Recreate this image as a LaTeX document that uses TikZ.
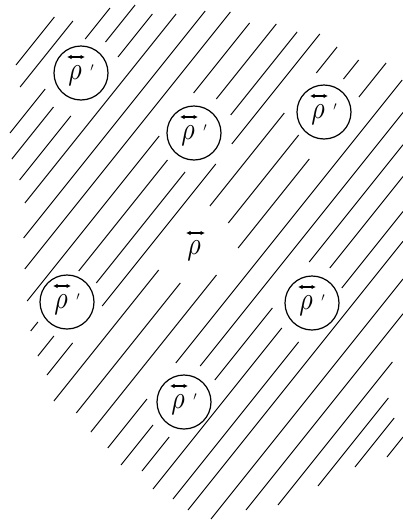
\documentclass[tikz,border=0pt]{standalone}
\usepackage{graphicx}
\usetikzlibrary{arrows.meta}
\newcommand\rhoglyph{\scalebox{2.6}[3.2]{$\rho$}}
\begin{document}
\begin{tikzpicture}[x=1pt,y=-1pt,
  hatch/.style={line width=1pt},
  cell/.style={draw, circle, line width=1.2pt, minimum size=54pt, inner sep=0pt},
  rholab/.style={inner sep=0pt},
  primelab/.style={inner sep=0pt, font=\large},
  accent/.style={line width=1.2pt, {Latex[length=4.5pt,width=4.5pt]}-{Latex[length=4.5pt,width=4.5pt]}}
]
\useasboundingbox (0,0) rectangle (403,520);
\foreach \c/\ya/\yb in {
68/17/65,
89.7/21/87,
116.4/8/39, 116.4/89/133,
139.1/5/42, 139.1/107/159,
163.6/14/57, 163.6/116/180,
187.3/14/203,
214/11/238,
240/12/269,
268/23/93, 268/136/301,
295.5/24/99, 295.5/160/271, 295.5/322/331,
322.7/32/115, 322.7/172/283, 322.7/336/356,
347/34/144, 347/164/306, 347/343/375,
374.7/47/73, 374.7/113/206, 374.7/270/401,
406.7/60/79, 406.7/135/223, 406.7/283/413,
436.5/63/97, 436.5/159/248, 436.5/275/432,
466.2/80/363, 466.2/399/448,
493/112.5/366, 493/425/465,
518.8/144.75/262, 518.8/308/380, 518.8/437/471,
544.2/176.5/268, 544.2/328/489,
572.2/211.5/288, 572.2/342/499,
596/241.25/510,
626.2/279/519,
654/313.75/510,
682/362/505,
706.8/398/486,
728.6/418/467,
752.6/437/457}
  \draw[hatch] ({\c-0.8*\ya},\ya) -- ({\c-0.8*\yb},\yb);
\foreach \n/\cx/\cy in {c1/81/73, c2/194/133, c3/324/112, c4/67/302, c5/312/303, c6/184/402} {
  \node[cell] (\n) at (\cx,\cy) {};
  \node[rholab] (\n-r) at (\cx-6,\cy+3) {\rhoglyph};
  \node[primelab] (\n-p) at (\cx+11,\cy-5) {$\prime$};
  \draw[accent] (\cx-14,\cy-16) -- (\cx+4,\cy-16);
}
\node[rholab] (mid-r) at (194,251) {\rhoglyph};
\draw[accent] (186,233) -- (205,233);
\end{tikzpicture}
\end{document}
